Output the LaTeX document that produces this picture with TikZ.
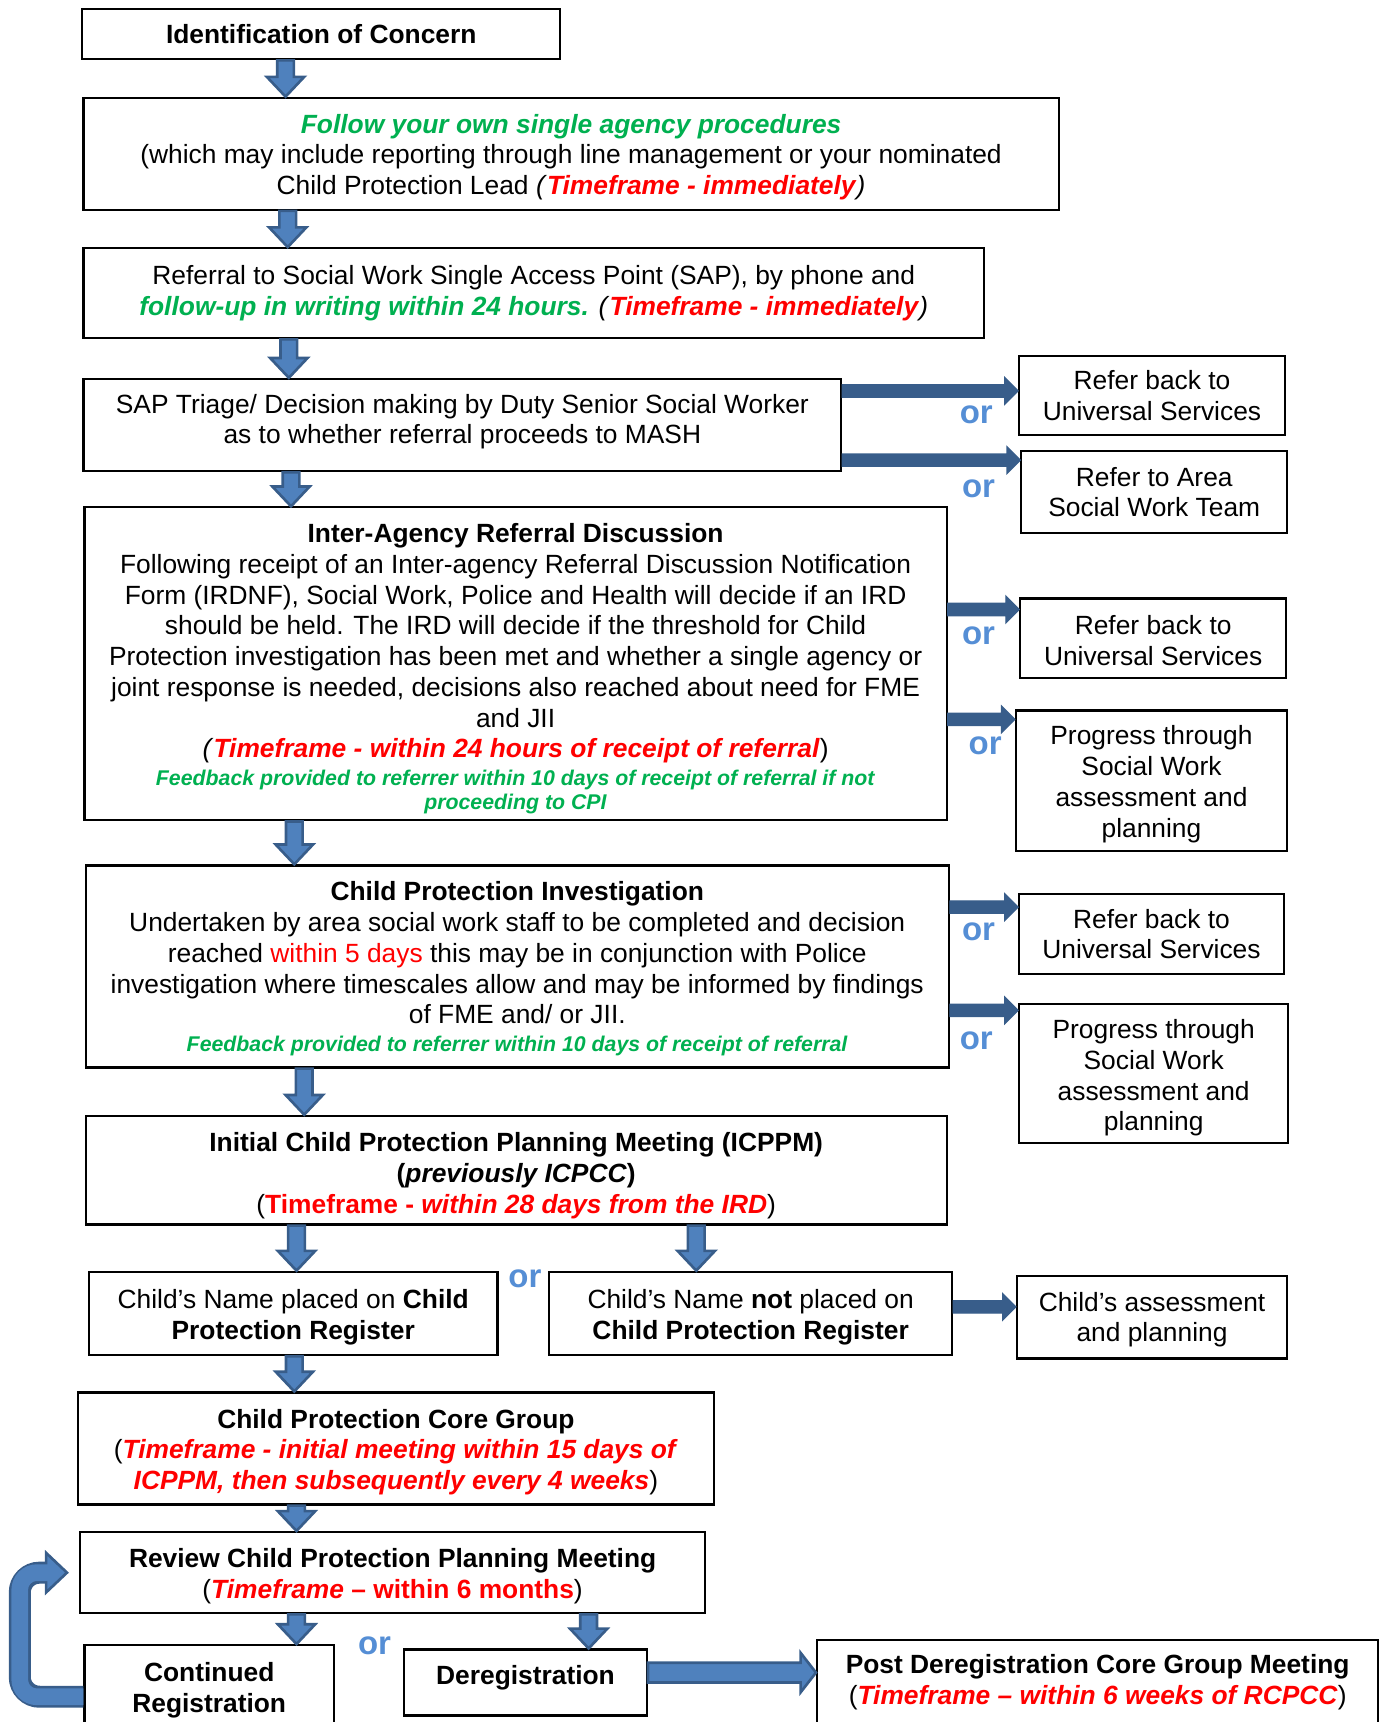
\documentclass[tikz,border=0pt]{standalone}
\usepackage{fontspec}
\setmainfont{Liberation Sans}
\usepackage{xcolor}
\usepackage{tikz}
\usetikzlibrary{calc}
\definecolor{tfred}{RGB}{255,0,0}
\definecolor{fbgreen}{RGB}{0,176,80}
\definecolor{orblue}{RGB}{85,142,213}
\definecolor{arrfill}{RGB}{79,129,189}
\definecolor{arrline}{RGB}{56,93,138}

\newcommand{\tfr}[1]{\textcolor{tfred}{\textbf{\textit{#1}}}}
\newcommand{\gbi}[1]{\textcolor{fbgreen}{\textbf{\textit{#1}}}}
\newcommand{\smallgreen}[1]{{\fontsize{9.7}{11}\selectfont\gbi{#1}}}
% nudge node text down / up
\newcommand{\dn}[1]{\rule{0pt}{\dimexpr 8.8pt+#1*2\relax}}
\newcommand{\up}[1]{\rule[-\dimexpr 2.5pt+#1*2\relax]{0pt}{0pt}}
% down block arrow: x, from, to
\newcommand{\downblock}[3]{%
  \draw[blockarr] let \p1=(#2.south), \p2=(#3.north), \p3=(#1,0) in
    (\x3-3.8pt,\y1) -- (\x3+3.8pt,\y1) -- (\x3+3.8pt,\y2+9pt) -- (\x3+8.5pt,\y2+9pt)
    -- (\x3,\y2) -- (\x3-8.5pt,\y2+9pt) -- (\x3-3.8pt,\y2+9pt) -- cycle;}
% side block arrow: [style] y, from, to, half bar, half head, head length
\newcommand{\sideblock}[7][sidearr]{%
  \draw[#1] let \p1=(#3.east), \p2=(#4.west), \p3=(0,#2) in
    (\x1,\y3+#5) -- (\x2-#7,\y3+#5) -- (\x2-#7,\y3+#6) -- (\x2,\y3)
    -- (\x2-#7,\y3-#6) -- (\x2-#7,\y3-#5) -- (\x1,\y3-#5) -- cycle;}

\begin{document}
\begin{tikzpicture}[x=0.5pt,y=-0.5pt,font=\fontsize{12}{14}\selectfont]
\tikzset{box/.style={draw,line width=1pt,inner sep=0pt,align=center},
  orlabel/.style={text=orblue,font=\fontsize{15}{18}\selectfont\bfseries},
  blockarr/.style={draw=arrline,fill=arrfill,line width=1.2pt,line join=miter},
  sidearr/.style={draw=arrline,fill=arrline,line width=0.6pt},
  bigside/.style={draw=arrline,fill=arrfill,line width=1.2pt}}
\useasboundingbox (0,0) rectangle (1259,1568);

% main column
\node[box,minimum width=217.5pt,minimum height=23pt] (ident) at (292.5,31) {\textbf{Identification of Concern}};
\node[box,minimum width=444pt,minimum height=51pt] (follow) at (520,140)
 {\dn{1.5pt}\gbi{Follow your own single agency procedures}\\
  (which may include reporting through line management or your nominated\\
  Child Protection Lead \textit{(}\tfr{Timeframe - immediately}\textit{)}};
\node[box,minimum width=410pt,minimum height=41pt] (referral) at (486,267)
 {Referral to Social Work Single Access Point (SAP), by phone and\\
  \gbi{follow-up in writing within 24 hours.} \textit{(}\tfr{Timeframe - immediately}\textit{)}};
\node[box,minimum width=345pt,minimum height=42pt] (triage) at (421,387)
 {SAP Triage/ Decision making by Duty Senior Social Worker\\
  as to whether referral proceeds to MASH\up{1.5pt}};
\node[box,minimum width=392.5pt,minimum height=142.5pt] (ird) at (469.5,604.5)
 {\dn{2.2pt}\textbf{Inter-Agency Referral Discussion}\\
  Following receipt of an Inter-agency Referral Discussion Notification\\
  Form (IRDNF), Social Work, Police and Health will decide if an IRD\\
  should be held. The IRD will decide if the threshold for Child\\
  Protection investigation has been met and whether a single agency or\\
  joint response is needed, decisions also reached about need for FME\\
  and JII\\
  \textit{(}\tfr{Timeframe - within 24 hours of receipt of referral})\\[-1.5pt]
  \smallgreen{Feedback provided to referrer within 10 days of receipt of referral if not}\\[-3pt]
  \smallgreen{proceeding to CPI}};
\node[box,minimum width=393pt,minimum height=92pt] (cpi) at (471,880)
 {\dn{1pt}\textbf{Child Protection Investigation}\\
  Undertaken by area social work staff to be completed and decision\\
  reached \textcolor{tfred}{within 5 days} this may be in conjunction with Police\\
  investigation where timescales allow and may be informed by findings\\
  of FME and/ or JII.\\[-1.5pt]
  \smallgreen{Feedback provided to referrer within 10 days of receipt of referral}};
\node[box,minimum width=392pt,minimum height=49.5pt] (icppm) at (470,1065.5)
 {\dn{2.4pt}\textbf{Initial Child Protection Planning Meeting (ICPPM)}\\
  \textbf{(\textit{previously ICPCC})}\\
  (\textcolor{tfred}{\textbf{Timeframe - \textit{within 28 days from the IRD}}})};
\node[box,minimum width=186pt,minimum height=38pt] (placed) at (267,1196)
 {\dn{1.5pt}Child’s Name placed on \textbf{Child}\\ \textbf{Protection Register}};
\node[box,minimum width=183.5pt,minimum height=38pt] (notplaced) at (683.5,1196)
 {\dn{1.5pt}Child’s Name \textbf{not} placed on\\ \textbf{Child Protection Register}};
\node[box,minimum width=289.5pt,minimum height=51pt] (core) at (360.5,1319)
 {\dn{1.5pt}\textbf{Child Protection Core Group}\\
  (\tfr{Timeframe - initial meeting within 15 days of}\\
  \tfr{ICPPM, then subsequently every 4 weeks})};
\node[box,minimum width=284.5pt,minimum height=37pt] (review) at (357.5,1432)
 {\dn{1.7pt}\textbf{Review Child Protection Planning Meeting}\\
  (\textcolor{tfred}{\textbf{\textit{Timeframe} – within 6 months}})};
\node[box,minimum width=113.5pt,minimum height=41pt] (contreg) at (190.5,1539)
 {\textbf{Continued}\\ \textbf{Registration}};
\node[box,minimum width=110.5pt,minimum height=30pt] (dereg) at (478.5,1532) {\textbf{Deregistration}\up{2pt}};
\node[box,minimum width=255.5pt,minimum height=42pt] (postdereg) at (999.5,1535)
 {\textbf{Post Deregistration Core Group Meeting}\\
  (\tfr{Timeframe – within 6 weeks of RCPCC})\up{1.5pt}};

% side outcomes
\node[box,minimum width=121pt,minimum height=36pt] (back1) at (1049,360) {Refer back to\\ Universal Services};
\node[box,minimum width=121pt,minimum height=37pt] (area) at (1051,448) {Refer to Area\\ Social Work Team};
\node[box,minimum width=121pt,minimum height=36pt] (back2) at (1050,581) {\dn{1pt}Refer back to\\ Universal Services};
\node[box,minimum width=123.5pt,minimum height=64pt] (prog1) at (1048.5,711) {\dn{1.5pt}Progress through\\ Social Work\\ assessment and\\ planning};
\node[box,minimum width=120.5pt,minimum height=36.5pt] (back3) at (1048.5,850.5) {Refer back to\\ Universal Services};
\node[box,minimum width=122.5pt,minimum height=63.5pt] (prog2) at (1050.5,977.5) {\dn{2pt}Progress through\\ Social Work\\ assessment and\\ planning};
\node[box,minimum width=123pt,minimum height=37.5pt] (assess) at (1049,1199.5) {\dn{1pt}Child’s assessment\\ and planning};

\node[orlabel] (or1) at (889,378) {or};
\node[orlabel] (or2) at (891,445) {or};
\node[orlabel] (or3) at (891,579) {or};
\node[orlabel] (or4) at (897,679) {or};
\node[orlabel] (or5) at (891,848) {or};
\node[orlabel] (or6) at (889,948) {or};
\node[orlabel] (or7) at (478,1164) {or};
\node[orlabel] (or8) at (341,1499) {or};

% down arrows
\downblock{260}{ident}{follow}
\downblock{262}{follow}{referral}
\downblock{263}{referral}{triage}
\downblock{265}{triage}{ird}
\downblock{268}{ird}{cpi}
\downblock{277}{cpi}{icppm}
\downblock{270}{icppm}{placed}
\downblock{634}{icppm}{notplaced}
\downblock{268}{placed}{core}
\downblock{270}{core}{review}
\downblock{270}{review}{contreg}
\downblock{536}{review}{dereg}

% side arrows
\sideblock{356}{triage}{back1}{2.8pt}{6pt}{6pt}
\sideblock{419}{triage}{area}{2.8pt}{6pt}{6pt}
\sideblock{555}{ird}{back2}{2.8pt}{6pt}{6pt}
\sideblock{655}{ird}{prog1}{2.8pt}{6pt}{6pt}
\sideblock{826}{cpi}{back3}{2.8pt}{6pt}{6pt}
\sideblock{920}{cpi}{prog2}{2.8pt}{6pt}{6pt}
\sideblock{1190}{notplaced}{assess}{2.8pt}{6pt}{6pt}
\sideblock[bigside]{1523}{dereg}{postdereg}{4.5pt}{9pt}{7pt}

% loop back to review
\coordinate (ustart) at ($(contreg.west)+(0,6)$);
\coordinate (uend) at ($(review.west)+(-30,0)$);
\draw[line width=10pt,arrline,rounded corners=9pt] (ustart) -| (18,1432) -- (uend);
\fill[arrfill,draw=arrline,line width=1.2pt] ($(uend)+(0,-18)$) -- ($(review.west)+(-11,0)$) -- ($(uend)+(0,18)$) -- cycle;
\draw[line width=7.6pt,arrfill,rounded corners=7.8pt] (ustart) -| (18,1432) -- ($(uend)+(3,0)$);
\end{tikzpicture}
\end{document}
